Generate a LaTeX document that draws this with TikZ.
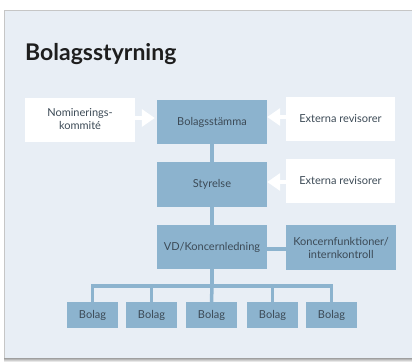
\documentclass[tikz,border=0pt]{standalone}
\usepackage{fontspec}
\setmainfont{Lato}
\usetikzlibrary{arrows.meta}
\definecolor{panelbg}{HTML}{E8EEF5}
\definecolor{boxblue}{HTML}{8CB3CE}
\definecolor{txt}{HTML}{3C4A56}
\definecolor{titletxt}{HTML}{1E1E1E}
\tikzset{
  box/.style={minimum width=110pt, minimum height=44pt, inner sep=1pt, align=center,
    font=\fontsize{11}{13}\selectfont, text=txt},
  bluebox/.style={box, fill=boxblue},
  whitebox/.style={box, fill=white},
  bolagbox/.style={fill=boxblue, minimum width=51pt, minimum height=26pt, inner sep=1pt,
    font=\fontsize{11}{13}\selectfont, text=txt},
  conn/.style={draw=boxblue, line width=3.5pt},
  fatarrow/.style={draw=white, line width=4pt, -{Triangle[length=13pt,width=17pt]}}
}
\begin{document}
\begin{tikzpicture}[x=1pt,y=-1pt]
\useasboundingbox (0,0) rectangle (412,362);
% panel
\fill[panelbg] (4,10) rectangle (412,358);
\draw[gray!45, line width=1pt] (4,358) -- (4,10) -- (412,10);
\shade[top color=gray!75, bottom color=white] (4,358) rectangle (412,362);
% title
\node[anchor=base west, inner sep=0pt, font=\fontsize{23}{26}\selectfont\bfseries, text=titletxt] (title) at (25,60) {Bolagsstyrning};
% boxes
\node[whitebox] (nom) at (80,119.5) {Nominerings-\\kommité};
\node[bluebox] (bs) at (212,122) {Bolagsstämma};
\node[whitebox, minimum width=109pt] (ext1) at (340.5,119) {Externa revisorer};
\node[bluebox, minimum height=45pt] (sty) at (212,184.5) {Styrelse};
\node[whitebox, minimum width=109pt] (ext2) at (340.5,181) {Externa revisorer};
\node[bluebox] (vd) at (212,247) {VD/Koncernledning};
\node[bluebox, minimum height=45pt] (konc) at (341,247.5) {Koncernfunktioner/\\internkontroll};
\node[bolagbox] (b1) at (92.5,315) {Bolag};
\node[bolagbox] (b2) at (151.5,315) {Bolag};
\node[bolagbox] (b3) at (211.5,315) {Bolag};
\node[bolagbox] (b4) at (272.5,315) {Bolag};
\node[bolagbox] (b5) at (331.5,315) {Bolag};
% connectors
\draw[conn] (bs.south) -- (sty.north);
\draw[conn] (sty.south) -- (vd.north);
\draw[conn] (vd.east |- 0,249) -- (konc.west |- 0,249);
\coordinate (bar) at (212,286);
\draw[conn] (vd.south) -- (bar);
\draw[conn] (b1.north) |- (bar);
\draw[conn] (b5.north) |- (bar);
\draw[conn] (bar) -- (b3.north);
\draw[conn] (b2.north) -- (b2.north |- bar);
\draw[conn] (b4.north) -- (b4.north |- bar);
% arrows
\draw[fatarrow, shorten >=2pt] (nom.east |- 0,118) -- (bs.west |- 0,118);
\draw[fatarrow] (ext1.west |- 0,117) -- (bs.east |- 0,117);
\draw[fatarrow] (ext2.west |- 0,182) -- (sty.east |- 0,182);
\end{tikzpicture}
\end{document}
